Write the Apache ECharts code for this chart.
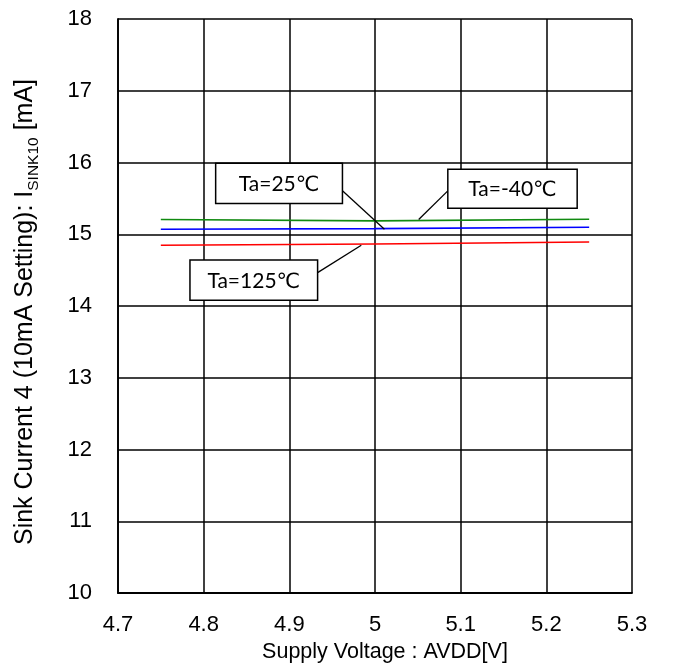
<!DOCTYPE html>
<html><head><meta charset="utf-8">
<script src="https://cdn.jsdelivr.net/npm/echarts@6/dist/echarts.min.js"></script>
<style>html,body{margin:0;padding:0;background:#fff}#c{width:685px;height:668px}</style>
</head><body><div id="c"></div>
<script>
var voltages = [4.75, 5.0, 5.25];
var ta_m40 = [15.205, 15.186, 15.209];
var ta_25 = [15.070, 15.079, 15.098];
var ta_125 = [14.847, 14.865, 14.893];
var seriesNames = ['Ta=-40℃', 'Ta=25℃', 'Ta=125℃'];
var seriesColors = ['#118a11', '#0000ff', '#ff0000'];
// annotation boxes: [x1, y1, x2, y2] in data coords; leaders [x1,y1,x2,y2]
var boxLabels = ['Ta=25℃', 'Ta=-40℃', 'Ta=125℃'];
var boxRects = [[4.814, 15.99, 4.962, 15.43], [5.085, 15.907, 5.236, 15.363], [4.784, 14.64, 4.933, 14.08]];
var leaders = [[4.962, 15.605, 5.011, 15.07], [5.085, 15.605, 5.051, 15.205], [4.933, 14.465, 4.984, 14.847]];

function pairs(xs, ys){ return xs.map(function(x,i){return [x, ys[i]];}); }
var chart = echarts.init(document.getElementById('c'), null, {renderer:'canvas'});
var font = 'Liberation Sans, Arial, sans-serif';
var option = {
  animation:false,
  grid:{left:118, right:53, top:19, bottom:75},
  xAxis:{type:'value', min:4.7, max:5.3, interval:0.1,
    axisLine:{lineStyle:{color:'#000', width:1.8}}, axisTick:{show:false},
    splitLine:{show:true, lineStyle:{color:'#000', width:1.5}},
    axisLabel:{color:'#000', fontSize:22, fontFamily:font, margin:21,
      formatter:function(v){return String(Math.round(v*10)/10);}},
    name:'Supply Voltage : AVDD[V]', nameLocation:'middle', nameGap:46,
    nameTextStyle:{color:'#000', fontSize:21.5, fontFamily:font, padding:[0,0,0,20]}},
  yAxis:{type:'value', min:10, max:18, interval:1,
    axisLine:{lineStyle:{color:'#000', width:1.8}}, axisTick:{show:false},
    splitLine:{show:true, lineStyle:{color:'#000', width:1.5}},
    axisLabel:{color:'#000', fontSize:22, fontFamily:font, margin:26},
    name:'{a|Sink Current 4 (10mA Setting): I}{s|SINK10}{a| [mA]}', nameLocation:'middle', nameGap:80,
    nameTextStyle:{color:'#000', fontSize:25, fontFamily:font, padding:[0,12,0,0],
      rich:{a:{fontSize:25, fontFamily:font, color:'#000', verticalAlign:'bottom', lineHeight:28},
            s:{fontSize:15.5, fontFamily:font, color:'#000', verticalAlign:'bottom', lineHeight:28, padding:[0,0,-4,0]}}}},
  series:[
    {name:seriesNames[0], type:'line', data:pairs(voltages, ta_m40), showSymbol:false, lineStyle:{color:seriesColors[0], width:1.6}, z:3},
    {name:seriesNames[1], type:'line', data:pairs(voltages, ta_25), showSymbol:false, lineStyle:{color:seriesColors[1], width:1.6}, z:3},
    {name:seriesNames[2], type:'line', data:pairs(voltages, ta_125), showSymbol:false, lineStyle:{color:seriesColors[2], width:1.6}, z:3}
  ]
};
chart.setOption(option);
var g = [];
leaders.forEach(function(l){
  var p1 = chart.convertToPixel({gridIndex:0}, [l[0], l[1]]);
  var p2 = chart.convertToPixel({gridIndex:0}, [l[2], l[3]]);
  g.push({type:'line', shape:{x1:p1[0], y1:p1[1], x2:p2[0], y2:p2[1]}, style:{stroke:'#000', lineWidth:1.3}, z:10});
});
boxRects.forEach(function(b, i){
  var p1 = chart.convertToPixel({gridIndex:0}, [b[0], b[1]]);
  var p2 = chart.convertToPixel({gridIndex:0}, [b[2], b[3]]);
  g.push({type:'rect', shape:{x:p1[0], y:p1[1], width:p2[0]-p1[0], height:p2[1]-p1[1]},
    style:{fill:'#fff', stroke:'#000', lineWidth:1.5}, z:11});
  g.push({type:'text', x:(p1[0]+p2[0])/2, y:(p1[1]+p2[1])/2 + 1,
    style:{text:boxLabels[i], fill:'#000', font:'21px Lato, "DejaVu Sans", sans-serif', align:'center', verticalAlign:'middle'}, z:12});
});
chart.setOption({graphic:g});
</script></body></html>
